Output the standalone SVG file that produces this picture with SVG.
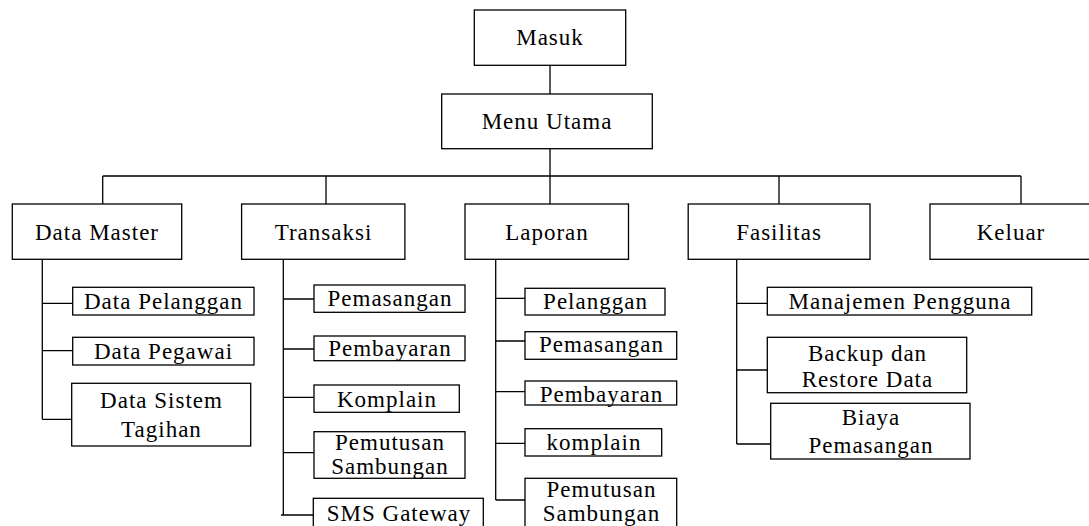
<svg xmlns="http://www.w3.org/2000/svg" width="1089" height="526" viewBox="0 0 1089 526">
<style>
rect{fill:#fff;stroke:#000;stroke-width:1.3}
.c path{fill:none;stroke:#000;stroke-width:1.3}
text{font-family:"Liberation Serif","Times New Roman",serif;font-size:23px;letter-spacing:1px;text-anchor:middle;fill:#000}
</style>
<rect width="1089" height="526" style="fill:#fff;stroke:none"/>
<g class="c" id="connectors">
<path d="M550,65.3V94M550,148.7V176M102.7,176H1021M102.7,176V204M326,176V204M550,176V204M779,176V204M1021,176V204"/>
<path d="M42.3,259.3V419.3M42.3,303.3H72.7M42.3,350.7H72.7M42.3,419.3H71.7"/>
<path d="M283.3,259.3V515M283.3,299H314M283.3,349H314M283.3,397.3H314M283.3,452.7H314M281,515H313.3"/>
<path d="M495.7,259.3V500M495.7,298.3H525M495.7,341H525M495.7,391.7H525M495.7,443.3H525M495.7,500H525"/>
<path d="M736.7,259.3V444M736.7,303.3H767.3M736.7,370H767.3M736.7,444H770.7"/>
</g>
<g id="masuk"><rect x="474.3" y="10" width="151.4" height="55.3"/><text x="550" y="45">Masuk</text></g>
<g id="menu-utama"><rect x="441.7" y="94" width="210.6" height="54.7"/><text x="547" y="129">Menu Utama</text></g>
<g id="data-master"><rect x="12.3" y="204" width="169.4" height="55.3"/><text x="97" y="240">Data Master</text></g>
<g id="transaksi"><rect x="241.6" y="204" width="163.3" height="55.3"/><text x="323.5" y="240">Transaksi</text></g>
<g id="laporan"><rect x="465" y="204" width="163.5" height="55.3"/><text x="547" y="240">Laporan</text></g>
<g id="fasilitas"><rect x="688.2" y="204" width="181.8" height="55.3"/><text x="779" y="240">Fasilitas</text></g>
<g id="keluar"><rect x="930" y="204" width="162" height="55.3"/><text x="1011" y="240">Keluar</text></g>
<g id="data-pelanggan"><rect x="72.7" y="287.3" width="181.3" height="27.7"/><text x="163.5" y="309.3">Data Pelanggan</text></g>
<g id="data-pegawai"><rect x="72.7" y="337.3" width="181.3" height="27.7"/><text x="163.5" y="359.3">Data Pegawai</text></g>
<g id="data-sistem-tagihan"><rect x="71.7" y="383.3" width="179" height="62.7"/><text x="161.5" y="408">Data Sistem</text><text x="161.5" y="436.7">Tagihan</text></g>
<g id="t-pemasangan"><rect x="314" y="285" width="151" height="27.3"/><text x="390" y="306">Pemasangan</text></g>
<g id="t-pembayaran"><rect x="314" y="336" width="151" height="24.7"/><text x="390" y="356">Pembayaran</text></g>
<g id="t-komplain"><rect x="314" y="385" width="145.3" height="27.3"/><text x="387" y="406.7">Komplain</text></g>
<g id="t-pemutusan"><rect x="314" y="431.7" width="151" height="46.6"/><text x="390" y="450">Pemutusan</text><text x="390" y="474">Sambungan</text></g>
<g id="sms-gateway"><rect x="313.3" y="498.3" width="170" height="35"/><text x="399" y="520.5">SMS Gateway</text></g>
<g id="l-pelanggan"><rect x="525" y="288.3" width="140" height="26.7"/><text x="595.5" y="309.3">Pelanggan</text></g>
<g id="l-pemasangan"><rect x="525" y="331.7" width="151.7" height="27.6"/><text x="601.5" y="351.7">Pemasangan</text></g>
<g id="l-pembayaran"><rect x="525" y="381" width="151.7" height="24"/><text x="601.5" y="401.7">Pembayaran</text></g>
<g id="l-komplain"><rect x="525" y="428.7" width="136.7" height="27.3"/><text x="594" y="450">komplain</text></g>
<g id="l-pemutusan"><rect x="525" y="478.3" width="151.7" height="55"/><text x="601.5" y="496.7">Pemutusan</text><text x="601.5" y="520.5">Sambungan</text></g>
<g id="manajemen-pengguna"><rect x="767.3" y="287.3" width="264.4" height="27.7"/><text x="900" y="309.3">Manajemen Pengguna</text></g>
<g id="backup-restore"><rect x="767.3" y="337.3" width="199.4" height="55.4"/><text x="867.5" y="360.7">Backup dan</text><text x="867.5" y="387.3">Restore Data</text></g>
<g id="biaya-pemasangan"><rect x="770.7" y="403.3" width="199.3" height="55.7"/><text x="871" y="425">Biaya</text><text x="871" y="453.3">Pemasangan</text></g>
</svg>
